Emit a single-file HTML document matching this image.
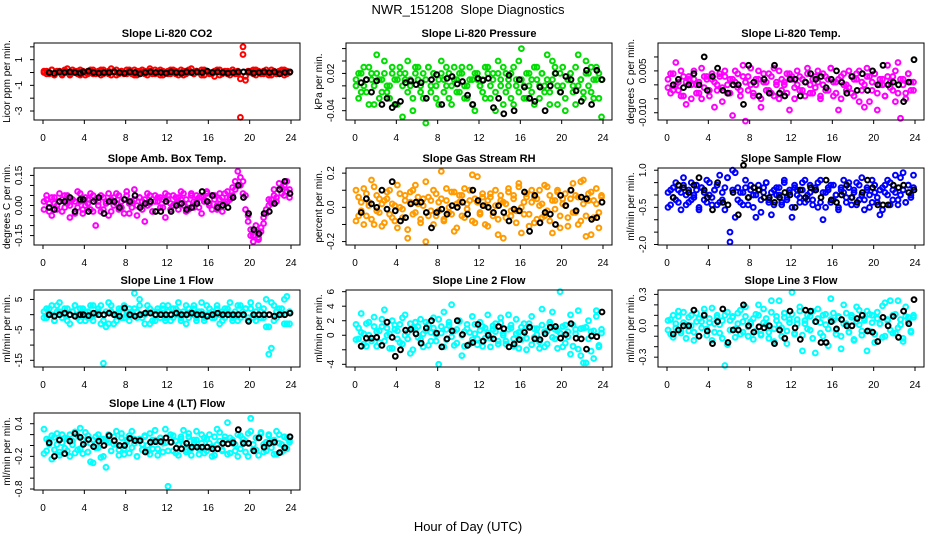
<!DOCTYPE html>
<html><head><meta charset="utf-8"><style>
html,body{margin:0;padding:0;background:#fff;}
svg{display:block;font-family:"Liberation Sans",Arial,sans-serif;}
</style></head><body>
<svg id="chart" width="936" height="540" viewBox="0 0 936 540" xmlns="http://www.w3.org/2000/svg">
<text x="468" y="14" text-anchor="middle" font-size="13" style="white-space:pre">NWR_151208  Slope Diagnostics</text>
<text x="468" y="531" text-anchor="middle" font-size="13">Hour of Day (UTC)</text>
</svg>
<script>
const hours = [0.1,0.35,0.6,0.85,1.1,1.35,1.6,1.85,2.1,2.35,2.6,2.85,3.1,3.35,3.6,3.85,4.1,4.35,4.6,4.85,5.1,5.35,5.6,5.85,6.1,6.35,6.6,6.85,7.1,7.35,7.6,7.85,8.1,8.35,8.6,8.85,9.1,9.35,9.6,9.85,10.1,10.35,10.6,10.85,11.1,11.35,11.6,11.85,12.1,12.35,12.6,12.85,13.1,13.35,13.6,13.85,14.1,14.35,14.6,14.85,15.1,15.35,15.6,15.85,16.1,16.35,16.6,16.85,17.1,17.35,17.6,17.85,18.1,18.35,18.6,18.85,19.1,19.35,19.6,19.85,20.1,20.35,20.6,20.85,21.1,21.35,21.6,21.85,22.1,22.35,22.6,22.85,23.1,23.35,23.6,23.85];
const blackHours = [0.6,1.1,1.6,2.1,2.6,3.1,3.6,3.9,4.4,4.9,5.4,5.9,6.4,6.9,7.4,7.9,8.4,8.9,9.4,9.9,10.4,10.9,11.4,11.9,12.4,12.9,13.4,13.9,14.4,14.9,15.4,15.9,16.4,16.9,17.4,17.9,18.4,18.9,19.4,19.9,20.4,20.9,21.4,21.9,22.4,22.9,23.4,23.9];
const xTicks = [0,4,8,12,16,20,24];

const titles = ["Slope Li-820 CO2","Slope Li-820 Pressure","Slope Li-820 Temp.","Slope Amb. Box Temp.","Slope Gas Stream RH","Slope Sample Flow","Slope Line 1 Flow","Slope Line 2 Flow","Slope Line 3 Flow","Slope Line 4 (LT) Flow"];
const yTitles = ["Licor ppm per min.","kPa per min.","degrees C per min.","degrees C per min.","percent per min.","ml/min per min.","ml/min per min.","ml/min per min.","ml/min per min.","ml/min per min."];

const co2A = [0,0.1,-0.1,0.2,-0.2,0.1,0,-0.1,0.2,0.3,-0.2,0,0.1,-0.1,0.2,0,-0.2,0.1,0.2,-0.1,0,0.1,-0.2,0.2,0,-0.1,0.3,0.1,-0.2,0,0.1,-0.1,0.2,0,-0.1,0.2,-0.2,0.1,0,0.1,-0.2,0.3,0,-0.1,0.1,0.2,-0.2,0,0.1,-0.1,0.2,-0.1,0,0.2,-0.2,0.1,0,0.3,-0.1,0.1,0,-0.2,0.2,0.1,-0.1,0,-0.3,0.1,0.2,-0.1,0,0.1,-0.2,0.2,0,-0.1,-0.5,2.0,-0.3,0.1,0,0.2,-0.2,0.1,0,-0.1,0.2,0,-0.2,0.1,0,-0.1,0.2,-0.2,0.1,0];
const co2B = [0.1,-0.1,0,0.2,-0.1,0,0.1,-0.2,0.1,0,-0.1,0.2,0,0.1,-0.2,0.1,0,-0.1,0.1,0.2,-0.1,0,0.2,-0.1,0,0.1,-0.2,0,0.2,-0.1,0.1,0,-0.1,0.2,0,-0.2,0.1,0,0.2,-0.1,0,0.1,-0.1,0.2,0,-0.2,0.1,0,-0.1,0.2,0,0.1,-0.2,0,0.1,-0.1,0.2,0,-0.1,0.1,0,0.2,-0.2,0.1,0,-0.1,0.1,0.2,-0.2,0,0.1,-0.1,0,0.2,-0.1,0.1,-3.5,1.4,-0.6,0,0.1,-0.1,0.2,0,-0.1,0.1,0,-0.2,0.2,0,-0.1,0.1,0,0.2,-0.1,0];
const co2K = [0,-0.05,0.05,0,0.05,0,-0.05,0.05,0.1,0,-0.05,0,0,0.05,0,-0.05,0.05,0,-0.1,0,0.05,0,0,-0.05,0.05,0,-0.05,0.05,0,0.05,0,0.1,0,0.05,0,-0.05,0,0.05,0.05,0.05,-0.05,0,0.05,0,0.05,-0.1,0,0.05];

const presA = [0.01,-0.02,0.02,0,-0.01,0.03,0.01,-0.03,0.02,0.01,-0.01,0.04,0,-0.02,0.02,0.01,-0.03,0.03,0,0.02,-0.01,0.01,-0.04,0.02,0.03,0,-0.02,0.01,0.03,-0.01,0.02,0,-0.03,0.02,0.01,0.03,-0.02,0,0.01,-0.01,0.02,0.03,-0.02,0,0.01,-0.03,0.02,0.01,0,-0.01,0.03,0.02,-0.02,0.01,-0.04,0.02,0,0.03,-0.01,0.01,0.02,-0.03,0,0.04,0.01,-0.02,0.02,0,-0.01,0.03,0.01,-0.02,0.02,0,0.05,-0.01,0.01,0.03,-0.03,0.02,0,-0.04,0.01,0.02,-0.01,0.03,0,0.01,-0.02,0.04,0.02,-0.01,0.01,0.03,-0.02,0.01];
const presB = [0,0.02,-0.01,0.03,0.01,-0.03,0.02,0,0.05,-0.02,0.01,0.02,-0.01,0,0.03,-0.03,0.01,0.02,-0.05,0.01,0.04,0,-0.02,0.03,0.01,-0.01,0.02,-0.06,0.03,0,0.02,-0.02,0.01,0.04,-0.01,0,0.02,-0.03,0.03,0.01,-0.01,0.02,0,-0.02,0.03,0.01,-0.04,0.02,0,0.01,-0.02,0.03,0,0.02,-0.01,0.04,0.01,-0.03,0.02,0,-0.02,0.03,0.01,-0.01,0.06,0,-0.02,0.02,0.01,-0.03,0.03,0,0.02,-0.01,0.01,-0.03,0.04,0.02,0,-0.01,0.03,-0.02,0.01,0.02,0,-0.03,0.05,0.01,-0.01,0.02,0,0.03,-0.02,0.01,0.02,-0.05];
const presK = [0.005,0.01,-0.01,0.008,-0.03,-0.02,-0.035,-0.03,-0.025,0.005,0.008,0.002,0.005,-0.02,0.01,0.018,-0.03,0.012,0.015,0.003,0.007,-0.015,-0.03,0.012,0.009,0.012,-0.035,-0.02,-0.045,0.017,-0.04,0.01,-0.002,-0.02,-0.025,-0.002,-0.04,0,0.02,-0.01,0.015,0.01,-0.008,-0.025,0.025,-0.03,0.025,0.01];

const tempA = [0.002,-0.003,0.004,0,-0.002,0.005,-0.004,0.001,0.003,-0.005,0.002,0,-0.003,0.006,-0.001,0.003,-0.004,0.002,0.001,-0.002,0.004,-0.006,0.003,0,-0.003,0.002,0.005,-0.001,-0.004,0.003,0.001,-0.002,0.006,-0.003,0,0.002,-0.005,0.004,0.001,-0.002,0.003,-0.004,0,0.005,-0.002,0.001,-0.003,0.004,0.002,-0.005,0,0.003,-0.002,0.001,0.004,-0.003,0.002,-0.001,0.005,-0.004,0,0.003,-0.002,0.006,0.001,-0.003,0.002,-0.005,0.004,0,-0.001,0.003,-0.004,0.002,0.005,-0.002,0,0.003,-0.006,0.001,0.004,-0.003,0.002,0,-0.004,0.003,0.001,-0.002,0.005,-0.003,0.002,0,-0.005,0.004,0.001,-0.002];
const tempB = [-0.001,0.004,-0.002,0.008,0.001,-0.004,0.003,-0.007,0.002,0,0.005,-0.003,0.001,-0.005,0.003,0.002,-0.002,0.004,-0.008,0,0.003,-0.001,0.005,-0.003,0.002,-0.011,0.001,0.004,-0.002,0.007,-0.013,0.003,0,-0.004,0.002,0.005,-0.008,0.001,-0.002,0.004,-0.003,0.006,0.001,-0.005,0.002,0,0.004,-0.009,0.003,-0.001,0.005,-0.002,0.002,-0.004,0.006,0,-0.003,0.003,0.001,-0.005,0.004,-0.002,0.002,0.006,-0.004,0.001,-0.009,0.003,0,-0.002,0.005,-0.003,0.002,0.004,-0.006,0.001,-0.008,0.006,0.003,-0.002,0.004,-0.009,0,0.002,-0.004,0.007,-0.001,0.003,-0.006,0.008,-0.012,0.002,-0.003,0.004,-0.002,0.001];
const tempK = [0,0.002,-0.001,0,0.004,0,0.010,-0.002,0.003,0.006,-0.002,-0.003,0,0,-0.007,0.007,0.001,-0.004,0.002,-0.003,0.007,-0.003,-0.004,0.002,0.002,-0.004,0.001,0.004,0.002,0.003,-0.001,0.002,0.005,0.001,-0.003,0.003,-0.002,0.004,-0.002,0.005,0,0.007,0,0.001,0,-0.006,0.001,0.009];

const ambA = [0.02,0.05,-0.03,0.04,0.01,-0.02,0.06,0.03,-0.01,0.05,0,0.03,-0.04,0.07,0.02,-0.02,0.04,0.01,0.06,-0.03,0.03,0,0.05,-0.02,0.02,0.06,-0.03,0.04,0.01,0.05,-0.01,0.03,0.07,-0.04,0.02,0.08,0,0.04,-0.02,0.03,0.06,0.01,-0.03,0.05,0.02,0.04,-0.01,0.06,0.03,-0.02,0.05,0.01,0.04,0.07,0,0.03,-0.02,0.06,0.02,0.05,-0.01,0.04,0.02,0.07,0,0.05,0.03,-0.02,0.06,0.04,0.01,0.07,0.03,0.05,0.08,0.1,0.14,0.12,0.05,-0.05,-0.12,-0.15,-0.1,-0.16,-0.13,-0.09,-0.04,0,0.03,0.05,0.02,0.08,0.06,0.1,0.07,0.04];
const ambB = [-0.02,0.03,0.01,-0.05,0.04,0,0.02,-0.03,0.05,0.01,-0.06,0.03,0.02,-0.01,0.06,-0.04,0,0.03,-0.02,0.05,-0.1,0.02,-0.03,0.04,0.01,-0.05,0.03,0,0.06,-0.02,0.02,-0.04,0.05,0.01,-0.01,0.03,-0.05,0.04,0.02,-0.08,0,0.05,-0.03,0.02,0.04,-0.01,0.03,-0.06,0.05,0.01,0,0.04,-0.02,0.03,0.06,-0.03,0.01,0.05,-0.01,0.02,0.04,-0.04,0.03,0.06,0.01,-0.02,0.05,0,0.03,-0.03,0.06,0.02,0.04,0.09,0.12,0.17,0.1,0.06,-0.02,-0.08,-0.15,-0.18,-0.13,-0.17,-0.11,-0.06,-0.02,0.03,0.01,0.08,0.04,0.11,0.09,0.05,0.12,0.08];
const ambK = [-0.01,-0.02,0.02,0.02,0.04,-0.03,0.03,0.03,-0.03,0.02,0.04,-0.04,0.02,0.02,-0.01,0.03,0.02,0.05,-0.01,0.01,0.02,-0.03,-0.03,0.02,-0.03,0,0.01,-0.02,-0.01,0.01,0.07,0.02,0.05,-0.01,0.001,-0.01,0.04,0.1,0.04,-0.04,-0.12,-0.14,-0.04,-0.03,0.01,0.08,0.12,0.06];

const rhA = [0.1,-0.05,0.03,-0.1,0.08,0.01,-0.07,0.12,-0.02,0.05,-0.11,0.04,0.09,-0.04,0.02,-0.08,0.13,0,-0.06,0.07,-0.13,0.03,0.1,-0.03,0.06,-0.09,0.01,0.15,-0.05,0.04,-0.1,0.08,-0.02,0.05,-0.07,0.11,0,-0.04,0.09,-0.12,0.03,0.07,-0.06,0.02,0.1,-0.08,0.05,0.18,-0.03,0.06,-0.1,0.04,0.08,-0.05,0.01,-0.16,0.07,0.03,-0.06,0.11,-0.02,0.05,-0.09,0.14,0,-0.04,0.08,-0.11,0.03,0.06,-0.07,0.1,0.02,-0.05,0.12,-0.08,0.04,-0.01,0.09,-0.12,0.05,0.01,-0.06,0.1,-0.03,0.07,-0.1,0.15,0.02,-0.05,0.08,-0.16,0.04,0.11,-0.03,0.06];
const rhB = [-0.08,0.06,-0.02,0.11,-0.05,0.03,0.16,-0.1,0.07,-0.03,0.02,-0.09,0.05,0.1,-0.06,0.01,-0.12,0.08,-0.01,0.04,-0.18,0.09,-0.04,0.13,0.02,-0.07,0.05,-0.2,0.06,-0.02,0.1,-0.05,0.03,0.21,-0.08,0.04,-0.03,0.09,-0.14,0.02,0.07,-0.05,0.11,-0.01,0.04,0.19,-0.09,0.03,-0.04,0.08,0.01,-0.11,0.06,-0.03,0.1,-0.07,0.04,-0.18,0.02,0.09,-0.05,0.07,-0.02,0.12,-0.15,0.03,0.06,-0.04,0.1,-0.09,0.05,0.01,-0.06,0.13,-0.02,0.07,-0.15,0.04,0.1,-0.05,0.02,0.08,-0.11,0.05,0.14,-0.03,0.06,-0.08,0.16,-0.17,0.04,0.09,-0.06,0.02,-0.12,0.07];
const rhK = [-0.03,0.05,0.02,0,0.1,-0.01,0.15,-0.02,-0.08,-0.06,0.02,0.03,0.03,-0.03,-0.12,-0.03,-0.01,-0.04,0.01,0,0.03,-0.04,0.1,0.04,0.01,0,-0.03,0.01,-0.03,-0.08,-0.01,-0.02,0.09,-0.14,0.07,-0.09,-0.03,-0.04,-0.1,0.07,0.01,0.1,-0.02,0.06,0.05,-0.07,-0.06,0.03];

const sampA = [0.1,-0.4,0.3,-0.2,0.2,-0.6,0.4,0,-0.3,0.5,-0.1,0.2,-0.5,0.3,-0.2,0.6,0,-0.4,0.2,0.4,-0.3,0.1,-0.6,0.7,-1.5,0.2,0.9,-0.2,0.1,-0.4,0.3,-0.1,0.4,-0.5,0,0.2,-0.7,0.3,0.5,-0.2,0.1,-0.4,0.3,0,-0.3,0.5,-0.1,0.2,-0.5,0.4,0,-0.3,0.2,0.6,-0.2,0.1,-0.4,0.3,0.5,-0.3,0.1,-0.5,0.2,0.4,-0.2,0,-0.6,0.3,0.1,-0.3,0.5,-0.1,0.2,-0.4,0.4,0,-0.2,0.3,-0.5,0.6,0.1,-0.3,0.2,-0.6,0.4,0,0.5,-0.2,0.1,-0.4,0.7,0.2,-0.3,0.4,0,0.8];
const sampB = [-0.5,0.2,-0.1,0.5,-0.3,0.1,0.7,-0.4,0.2,-0.2,0,0.4,-0.6,0.3,0.1,-0.3,0.5,-0.1,0.2,-0.4,0.8,-0.2,0.3,0.7,-1.9,1.0,-0.9,0.3,-0.3,0.1,0.6,-0.4,0.2,0,-0.9,0.4,-0.2,0.1,0.5,-0.3,-0.8,0.2,0,0.3,-0.4,0.6,-0.2,0.1,-0.9,0.3,0.2,-0.1,0.5,-0.3,0,0.4,-0.2,0.2,-0.5,0.6,-1.0,0.1,0.3,-0.3,0.4,0,-0.5,0.2,0.6,-0.1,0.3,-0.4,0.1,0.5,-0.2,0.7,-0.6,0.2,0,-0.3,0.4,-0.1,-0.8,0.3,0.1,0.6,-0.4,0.2,0.8,-0.2,0,0.9,-0.3,0.4,-0.1,0.3];
const sampK = [-0.1,0.4,0.3,0.1,0.4,0.7,0.2,-0.1,-0.6,0.5,-0.3,-0.4,0.1,-0.8,1.2,-0.1,0.3,0.2,-0.1,-0.1,-0.3,-0.1,0.1,0,-0.5,0.2,-0.1,0.3,0.2,-0.1,0.6,-0.2,-0.3,0,0.4,-0.1,-0.3,0.1,0.6,0.3,-0.4,-0.4,-0.4,0.4,0.3,0.4,0.1,0.2];

const l1A = [1,-1,2,0,-2,3,1,-1,2,-2,0,1,3,-1,2,0,-2,1,-1,3,0,2,-3,-16,1,-3,3,0,-2,1,2,-1,0,2,1,7,-1,3,0,-3,1,2,-2,0,1,-1,2,-2,3,0,-1,2,1,-2,0,3,-1,1,2,-2,0,1,-1,3,2,-1,0,2,-3,1,-1,2,0,-2,1,3,-1,0,2,-2,4,-1,1,0,-1,2,-4,-13,-11,3,-1,2,0,5,-3,1];
const l1B = [-1,2,0,3,-2,1,4,-1,0,2,-3,1,3,0,-2,2,1,-1,3,-2,0,1,3,-2,-4,4,1,-3,0,2,-1,3,1,-2,0,2,1,5,-1,0,3,-3,1,-2,2,0,3,-1,1,-2,2,0,4,-1,1,-3,2,0,3,-1,1,4,-2,0,2,1,-1,3,0,-2,2,1,4,-1,0,-2,3,1,2,-1,2,0,-2,3,1,-1,5,-4,4,-2,1,0,2,-3,6,-3];
const l1K = [0,-0.5,0,0.5,0,-0.5,0,0,-0.3,0.5,0,0,0.5,0,-0.5,2.2,0,-0.5,0,0.5,0.5,0,0,0,0,0.5,0,0,0.5,0,0,-0.5,0,0.5,0,0,0,0,0,-2.2,0,0,0,0,-0.5,0,0,0.5];

const l2A = [1.5,-0.5,3,0.2,-1.5,1.8,-0.8,2.5,0.5,-1,1.2,3.5,0,-1.8,2,0.8,-0.5,1.5,-1.2,2.8,0.4,-2.5,1,1.8,-0.3,2.2,-1.6,0.6,1.5,-0.8,2.4,0.1,-4,1.2,3.2,-0.6,1.8,4.2,-1.4,0.8,2,-2.8,0.5,1.5,-1.2,2.6,0.2,-0.5,1.8,-1.5,1,2.8,-0.4,0.8,1.6,-1.2,2.4,0.3,-0.8,2.8,1,-1.5,2.2,0.4,-0.6,1.6,-2,1.2,2.6,-0.3,0.9,-1.8,3.6,0.5,-1.2,1.8,3.2,-0.5,0.6,6,-1.6,1.4,-0.2,2.8,-1.5,0.8,3.4,-2.8,1,-3.8,2,0.5,-3.2,3.4,-1.6,0.8];
const l2B = [-0.6,1,0.4,-1.2,1.6,0,-0.4,1.2,-1.5,0.6,2.2,-0.8,1,0.2,-1.8,1.4,0.6,-1,2.4,0,-0.5,1.6,-2,0.8,1.2,-0.6,0.2,1.8,-1.4,0.4,1,-0.8,2.2,0.3,-1.6,0.8,1.4,-0.2,0.6,-1.1,1.9,0,-1.5,0.9,0.4,-0.6,1.5,-1.3,0.7,1.2,-0.4,0.3,-1.6,1.3,0.5,-0.8,1.7,0,-1.2,0.8,1.4,-0.5,0.2,-1.8,1.1,0.6,-0.4,1.6,-1.3,0.9,0.1,-0.9,1.4,-1.6,0.6,1.5,-0.3,0.8,-1.8,0.3,1.2,-1.1,0.5,-2.6,1.4,0.2,-1.9,0.9,-3.8,1.1,-0.5,-2.2,0.6,2.6,-1.4,0.3];
const l2K = [-1.5,-0.4,-0.4,-0.3,-1.4,1.8,-0.3,-2.9,-2.0,0.7,0.8,0.2,-1.1,1,2,0.3,-1.6,-0.5,0.6,2,0.1,-1.4,-1,1.5,-0.8,0,-0.5,1.2,0.9,-1.6,-1.2,-0.6,0.4,1.1,-0.5,-0.6,0.2,1.1,1.2,-0.4,0.1,1.6,-0.4,-0.5,-1.9,-0.1,-0.2,3.2];

const l3A = [0.05,-0.08,0.1,-0.02,0.14,-0.05,0.03,-0.12,0.08,0,-0.06,0.12,-0.1,0.04,0.16,-0.03,0.07,-0.14,0.02,0.1,-0.07,0.05,-0.38,0.13,-0.04,0.08,-0.11,0.02,0.15,-0.06,0.09,-0.01,0.04,-0.13,0.11,0.2,-0.08,0.03,0.07,-0.12,0.24,-0.03,0.09,0.01,-0.1,0.12,-0.05,0.06,0.32,-0.08,0.02,0.14,-0.24,0.05,-0.03,0.09,-0.12,0.04,0.16,-0.07,0.1,0.01,-0.19,0.06,0.12,-0.04,0.08,-0.1,0.2,0.02,-0.06,0.1,-0.13,0.04,0.15,-0.05,0.07,-0.24,0.11,0.03,-0.08,0.13,0.02,-0.11,0.22,0.06,-0.04,0.1,-0.07,0.24,0.01,-0.12,0.09,0.04,-0.05,0.08];
const l3B = [-0.04,0.06,-0.11,0.02,0.09,-0.07,0.13,0.01,-0.05,0.1,-0.14,0.04,0.07,-0.02,0.11,-0.09,0.03,0.17,-0.06,0.08,0.01,-0.12,0.1,-0.18,0.05,0.09,-0.03,0.12,-0.08,0.04,0.18,-0.1,0.02,0.07,-0.05,0.1,-0.09,0.16,0.01,-0.06,0.13,-0.15,0.05,0.24,-0.02,0.08,-0.17,0.03,0.11,-0.07,0.06,0.18,-0.09,0.02,0.1,-0.04,0.14,-0.26,0.07,0.03,-0.1,0.11,-0.03,0.26,0.05,-0.08,0.09,-0.22,0.02,0.12,-0.06,0.08,-0.14,0.18,0.01,-0.09,0.05,0.14,-0.05,0.1,-0.16,0.07,0.02,0.19,-0.1,0.05,0.24,-0.07,0.11,-0.02,0.06,-0.15,0.18,0.08,-0.06,0.1];
const l3K = [-0.08,-0.04,0,0,0.15,-0.1,0.1,-0.05,-0.17,0.04,0.16,-0.16,-0.04,-0.04,0.2,0,-0.06,-0.01,-0.02,0,-0.17,-0.04,-0.12,0.14,-0.02,-0.13,0.15,0.14,0.04,-0.16,-0.16,0.04,-0.03,0.06,0,0,0.07,0.1,-0.05,-0.06,-0.15,0.08,0,0.09,-0.11,0.14,0.02,0.25];

const l4A = [0.3,-0.1,0.1,-0.25,0.15,0.02,-0.12,0.2,-0.05,0.12,-0.2,0.08,0.25,-0.08,0.32,-0.15,0.05,0.18,-0.3,0.1,-0.04,0.2,-0.22,0.12,-0.4,0.06,-0.1,0.16,0.02,-0.18,0.22,-0.06,0.1,-0.14,0.26,0.04,-0.2,0.12,-0.08,0.18,0,-0.16,0.1,0.28,-0.06,0.14,-0.12,0.05,-0.75,0.2,-0.1,0.08,-0.18,0.16,0.02,-0.12,0.22,-0.06,0.1,0.26,-0.16,0.04,0.14,-0.1,0.2,-0.02,-0.18,0.3,0.08,-0.1,0.16,0.42,-0.14,0.1,0.02,-0.2,0.18,0.06,-0.12,0.22,0.5,-0.08,0.14,-0.18,0.24,0.02,-0.1,0.2,0.08,-0.16,0.26,0.04,-0.12,0.16,-0.06,0.1];
const l4B = [-0.15,0.12,0.02,0.18,-0.08,0.22,-0.18,0.05,0.14,-0.1,0.2,0.01,-0.14,0.18,-0.06,0.1,0.24,-0.12,0.04,-0.32,0.16,-0.04,0.12,-0.2,0.08,0.2,-0.1,0.02,0.26,-0.08,0.14,-0.16,0.06,0.18,-0.04,0.12,-0.2,0.08,0.02,0.16,-0.12,0.22,-0.06,0.1,-0.18,0.14,0.04,0.3,-0.1,0.06,0.18,-0.14,0.02,0.12,0.28,-0.08,0.16,-0.18,0.06,0.1,-0.06,0.2,-0.14,0.12,0.04,-0.2,0.16,0.02,0.24,-0.08,0.1,-0.16,0.14,0.04,-0.1,0.2,-0.06,0.12,0.08,-0.2,0.26,0.02,-0.08,0.14,0.22,-0.12,0.06,0.18,-0.04,0.1,-0.16,0.2,0.02,-0.08,0.14,0.06];
const l4K = [0.05,-0.2,0.1,-0.15,0.08,0.22,0.15,0.02,0.11,-0.02,0.08,0.0,0.18,0.09,0.0,0.0,0.13,0.09,0.09,-0.12,0.06,0.07,0.07,0.14,0.06,-0.05,-0.06,0.04,-0.03,-0.03,-0.03,-0.03,-0.06,-0.06,0.04,0.03,0.05,0.29,0.04,0.04,-0.1,0.14,-0.03,0.04,0.06,-0.13,-0.04,0.16];

const yTickVals = [[-3,-2,-1,0,1,2],[-0.04,-0.02,0,0.02,0.04,0.06],[-0.01,-0.005,0,0.005,0.01],[-0.15,-0.1,-0.05,0,0.05,0.1,0.15],[-0.2,-0.1,0,0.1,0.2],[-2,-1.5,-1,-0.5,0,0.5,1],[-15,-10,-5,0,5],[-4,-2,0,2,4,6],[-0.3,-0.2,-0.1,0,0.1,0.2,0.3],[-0.8,-0.6,-0.4,-0.2,0,0.2,0.4]];
const yTickLabels = [["-3","","-1","","1",""],["-0.04","","","0.02","",""],["-0.010","","","0.005",""],["-0.15","","","0.00","","","0.15"],["-0.2","","0.0","","0.2"],["-2.0","","","-0.5","","","1.0"],["-15","","-5","","5"],["-4","","0","2","4","6"],["-0.3","","","0.0","","","0.3"],["-0.8","","","-0.2","","","0.4"]];
const yMin = [-3.7,-0.055,-0.0126,-0.197,-0.22,-2.02,-17.2,-4.37,-0.394,-0.818];
const yMax = [2.3,0.069,0.015,0.187,0.23,1.09,8.1,6.23,0.342,0.597];

const colorSeries = [[co2A,co2B],[presA,presB],[tempA,tempB],[ambA,ambB],[rhA,rhB],[sampA,sampB],[l1A,l1B],[l2A,l2B],[l3A,l3B],[l4A,l4B]];
const blackSeries = [co2K,presK,tempK,ambK,rhK,sampK,l1K,l2K,l3K,l4K];
const colors = ["#ff0000","#00dd00","#ff00ff","#ff00ff","#ff9a00","#0000ff","#00ffff","#00ffff","#00ffff","#00ffff"];
const panelNames = ["co2","pressure","licor-temp","amb-box-temp","gas-stream-rh","sample-flow","line1-flow","line2-flow","line3-flow","line4-flow"];

const NS = "http://www.w3.org/2000/svg";
const svg = document.getElementById("chart");
const rowTops = [43,168,290,413];
const colLefts = [34,346,658];
const BW = 266, BH = 77;

function mk(tag, attrs, parent){
  const e = document.createElementNS(NS, tag);
  for (const k in attrs) e.setAttribute(k, attrs[k]);
  parent.appendChild(e);
  return e;
}

for (let p = 0; p < 10; p++) {
  const left = colLefts[p % 3], top = rowTops[Math.floor(p / 3)];
  const xScale = h => left + 9 + (h / 24) * (BW - 18);
  const yScale = v => top + BH - (v - yMin[p]) / (yMax[p] - yMin[p]) * BH;
  const g = mk("g", {}, svg);
  
  

  const t = mk("text", {x: left + BW / 2, y: top - 6, "text-anchor": "middle", "font-size": "11", "font-weight": "bold"}, g);
  t.textContent = titles[p];
  
  

  const yt = mk("text", {transform: "translate(" + (left - 24) + "," + (top + BH / 2) + ") rotate(-90)", "text-anchor": "middle", "font-size": "10"}, g);
  yt.textContent = yTitles[p];
  
  

  const pts = mk("g", {fill: "none", "stroke-width": "2"}, g);
  
  
  colorSeries[p].forEach(arr => {
    const n = Math.min(arr.length, hours.length);
    for (let i = 0; i < n; i++) {
      const c = mk("circle", {cx: xScale(hours[i]).toFixed(1), cy: yScale(arr[i]).toFixed(1), r: "2.4", stroke: colors[p]}, pts);
      
      
    }
  });
  const bk = blackSeries[p];
  const nb = Math.min(bk.length, blackHours.length);
  for (let i = 0; i < nb; i++) {
    const c = mk("circle", {cx: xScale(blackHours[i]).toFixed(1), cy: yScale(bk[i]).toFixed(1), r: "2.4", stroke: "#000"}, pts);
    
    
  }

  const box = mk("rect", {x: left, y: top, width: BW, height: BH, fill: "none", stroke: "#000", "stroke-width": "1"}, g);
  
  

  const xa = mk("g", {"font-size": "10", "text-anchor": "middle"}, g);
  
  
  mk("line", {x1: xScale(xTicks[0]), x2: xScale(xTicks[xTicks.length - 1]), y1: top + BH, y2: top + BH, stroke: "#000"}, xa);
  xTicks.forEach(v => {
    const x = xScale(v);
    mk("line", {x1: x, x2: x, y1: top + BH, y2: top + BH + 4, stroke: "#000"}, xa);
    const lt = mk("text", {x: x, y: top + BH + 21}, xa);
    lt.textContent = String(v);
    
    
  });

  const ya = mk("g", {"font-size": "10", "text-anchor": "middle"}, g);
  
  
  yTickVals[p].forEach((v, i) => {
    const y = yScale(v);
    mk("line", {x1: left - 4, x2: left, y1: y, y2: y, stroke: "#000"}, ya);
    if (yTickLabels[p][i]) {
      const lt = mk("text", {transform: "translate(" + (left - 12) + "," + y + ") rotate(-90)"}, ya);
      lt.textContent = yTickLabels[p][i];
      
      
    }
  });
}
</script>
</body></html>
